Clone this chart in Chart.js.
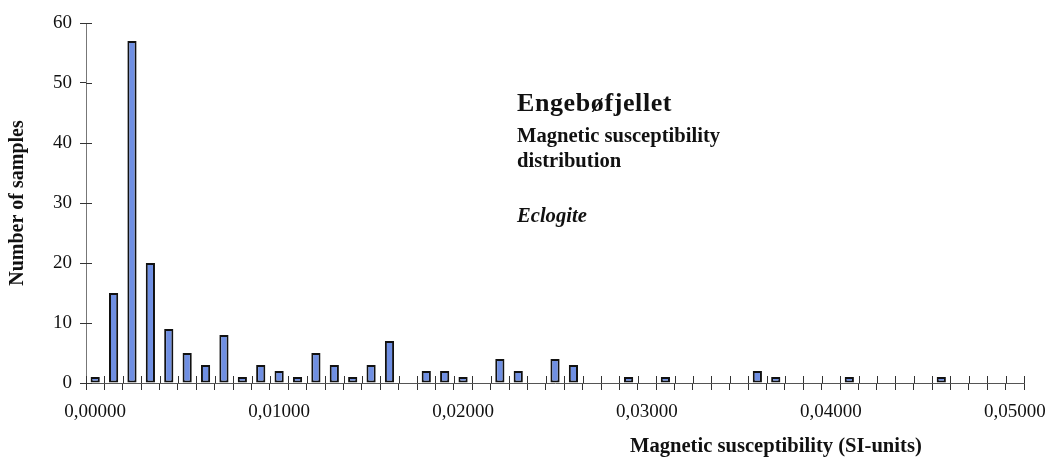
<!DOCTYPE html>
<html>
<head>
<meta charset="utf-8">
<script src="https://cdn.jsdelivr.net/npm/chart.js@4.4.1/dist/chart.umd.min.js"></script>
<style>
  html, body { margin: 0; padding: 0; background: #ffffff; }
  #wrap { position: relative; width: 1057px; height: 458px; }
  canvas { position: absolute; left: 0; top: 0; }
  .txt { position: absolute; font-family: "Liberation Serif", "Times New Roman", serif; color: #111; white-space: nowrap; line-height: 1; }
</style>
</head>
<body>
<div id="wrap">
  <canvas id="c" width="1057" height="458"></canvas>
  <div class="txt" style="left:517px; top:90px; font-size:26px; font-weight:bold; letter-spacing:0.6px;">Engebøfjellet</div>
  <div class="txt" style="left:517px; top:125px; font-size:20.6px; font-weight:bold;">Magnetic susceptibility</div>
  <div class="txt" style="left:517px; top:150px; font-size:20.6px; font-weight:bold;">distribution</div>
  <div class="txt" style="left:517px; top:205px; font-size:20.6px; font-weight:bold; font-style:italic;">Eclogite</div>
  <div class="txt" style="left:630px; top:435px; font-size:20.6px; font-weight:bold;">Magnetic susceptibility (SI-units)</div>
</div>
<script>
// Bin centres (SI-units), written as shown on the axis
const categories = [
  "0,00000","0,00100","0,00200","0,00300","0,00400","0,00500","0,00600","0,00700","0,00800","0,00900",
  "0,01000","0,01100","0,01200","0,01300","0,01400","0,01500","0,01600","0,01700","0,01800","0,01900",
  "0,02000","0,02100","0,02200","0,02300","0,02400","0,02500","0,02600","0,02700","0,02800","0,02900",
  "0,03000","0,03100","0,03200","0,03300","0,03400","0,03500","0,03600","0,03700","0,03800","0,03900",
  "0,04000","0,04100","0,04200","0,04300","0,04400","0,04500","0,04600","0,04700","0,04800","0,04900",
  "0,05000"
];
// Number of samples per bin
const counts = [
  1, 15, 57, 20, 9, 5, 3, 8, 1, 3,
  2, 1, 5, 3, 1, 3, 7, 0, 2, 2,
  1, 0, 4, 2, 0, 4, 3, 0, 0, 1,
  0, 1, 0, 0, 0, 0, 2, 1, 0, 0,
  0, 1, 0, 0, 0, 0, 1, 0, 0, 0,
  0
];
// Labelled x positions and y ticks
const xLabelled = ["0,00000","0,01000","0,02000","0,03000","0,04000","0,05000"];
const yTicks = [0, 10, 20, 30, 40, 50, 60];

const serif = "'Liberation Serif', 'Times New Roman', serif";

const crossTicks = {
  id: 'crossTicks',
  afterDraw(chart) {
    const ctx = chart.ctx;
    const xs = chart.scales.x, ys = chart.scales.y;
    const area = chart.chartArea;
    ctx.save();
    ctx.strokeStyle = '#333';
    ctx.lineWidth = 1;
    const n = categories.length;
    const half = (xs.getPixelForValue(1) - xs.getPixelForValue(0)) / 2;
    ctx.beginPath();
    for (let i = 0; i <= n; i++) {
      const x = Math.round((i < n ? xs.getPixelForValue(i) - half : xs.getPixelForValue(n - 1) + half)) + 0.5;
      ctx.moveTo(x, area.bottom - 7);
      ctx.lineTo(x, area.bottom);
    }
    yTicks.forEach(v => {
      const y = Math.round(ys.getPixelForValue(v)) + 0.5;
      ctx.moveTo(area.left, y);
      ctx.lineTo(area.left + 6, y);
    });
    ctx.stroke();
    ctx.restore();
  }
};

new Chart(document.getElementById('c'), {
  type: 'bar',
  data: {
    labels: categories,
    datasets: [{
      data: counts,
      backgroundColor: '#6f8fe3',
      borderColor: '#111111',
      borderWidth: 2,
      borderSkipped: false,
      categoryPercentage: 1.0,
      barPercentage: 0.5
    }]
  },
  options: {
    responsive: false,
    animation: false,
    layout: { padding: { left: 0, right: 27, top: 23, bottom: 0 } },
    plugins: { legend: { display: false }, tooltip: { enabled: false } },
    scales: {
      x: {
        offset: true,
        grid: { display: true, drawOnChartArea: false, drawTicks: true, tickLength: 7, color: '#333', offset: true },
        border: { display: true, color: '#555', width: 1 },
        ticks: {
          autoSkip: false, maxRotation: 0, minRotation: 0, padding: 11,
          color: '#111',
          font: { family: serif, size: 19 },
          callback: function(v, i) { const l = categories[i]; return xLabelled.includes(l) ? l : ''; }
        },
        afterFit: s => { s.height = 75; }
      },
      y: {
        min: 0, max: 60,
        grid: { display: true, drawOnChartArea: false, drawTicks: true, tickLength: 6, color: '#333' },
        border: { display: true, color: '#777', width: 1 },
        ticks: {
          stepSize: 10, padding: 8, color: '#111',
          font: { family: serif, size: 19 },
          callback: v => yTicks.includes(v) ? String(v) : ''
        },
        title: {
          display: true, text: 'Number of samples', color: '#111',
          font: { family: serif, size: 20, weight: 'bold' },
          padding: { top: 6, bottom: 0 }
        },
        afterFit: s => { s.width = 86; }
      }
    }
  },
  plugins: [crossTicks]
});
</script>
</body>
</html>
